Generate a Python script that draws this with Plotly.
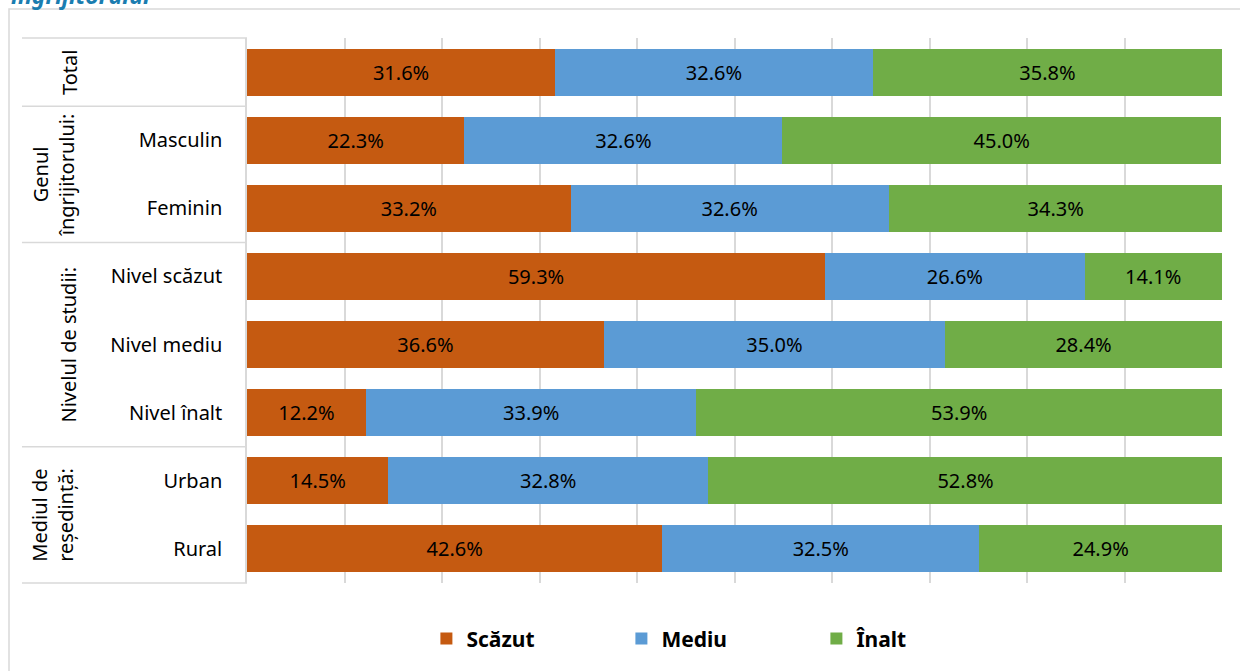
import plotly.graph_objects as go

categories = ["Total", "Masculin", "Feminin", "Nivel scăzut", "Nivel mediu",
              "Nivel înalt", "Urban", "Rural"]
tick_labels = ["", "Masculin", "Feminin", "Nivel scăzut", "Nivel mediu",
               "Nivel înalt", "Urban", "Rural"]
series_names = ["Scăzut", "Mediu", "Înalt"]
scazut = [31.6, 22.3, 33.2, 59.3, 36.6, 12.2, 14.5, 42.6]
mediu = [32.6, 32.6, 32.6, 26.6, 35.0, 33.9, 32.8, 32.5]
inalt = [35.8, 45.0, 34.3, 14.1, 28.4, 53.9, 52.8, 24.9]
groups = ["Total", "Genul<br>îngrijitorului:", "Nivelul de studii:", "Mediul de<br>reședință:"]
group_sizes = [1, 2, 3, 2]

colors = ["#C55A11", "#5B9BD5", "#70AD47"]
grid = "#D9D9D9"
font = "Noto Sans"

fig = go.Figure()
for name, vals, col in zip(series_names, [scazut, mediu, inalt], colors):
    fig.add_trace(go.Bar(
        y=categories, x=vals, name=name, orientation="h",
        marker=dict(color=col, line=dict(width=0)),
        texttemplate="%{x:.1f}%", textposition="inside",
        insidetextanchor="middle", textangle=0,
        textfont=dict(family=font, size=20, color="#000000"),
        hoverinfo="skip",
    ))

# group separators and rotated group labels on the left
n = len(categories)
shapes = []
annotations = []
start = 0
shapes.append(dict(type="line", xref="paper", yref="paper", x0=-0.2308, x1=0,
                   y0=1, y1=1, line=dict(color=grid, width=1.5)))
for g, size in zip(groups, group_sizes):
    end = start + size
    y_bottom = 1 - end / n
    shapes.append(dict(type="line", xref="paper", yref="paper", x0=-0.2308, x1=0,
                       y0=y_bottom, y1=y_bottom, line=dict(color=grid, width=1.5)))
    xpos = -0.199 if "<br>" in g else -0.1826
    annotations.append(dict(text=g, xref="paper", yref="paper", x=xpos,
                            y=1 - (start + end) / 2 / n, textangle=-90,
                            showarrow=False, xanchor="center", yanchor="middle",
                            font=dict(family=font, size=20, color="#000000")))
    start = end

# outer chart frame
shapes.append(dict(type="rect", xref="paper", yref="paper", x0=-0.2441, x1=1.1,
                   y0=-0.4, y1=1.0532, line=dict(color=grid, width=1.5),
                   fillcolor="rgba(0,0,0,0)"))

# clipped title from above the chart
annotations.append(dict(text="<b><i>îngrijitorului</i></b>", xref="paper", yref="paper",
                        x=-0.2441, y=1.046, xanchor="left", yanchor="bottom",
                        showarrow=False,
                        font=dict(family=font, size=23, color="#1A7DB0")))

fig.update_layout(
    barmode="stack",
    bargap=0.31,
    width=1240, height=671,
    margin=dict(l=247, r=18, t=38, b=88),
    paper_bgcolor="white", plot_bgcolor="white",
    shapes=shapes, annotations=annotations,
    showlegend=True,
    legend=dict(orientation="h", x=0.184, y=-0.065, xanchor="left", yanchor="top",
                entrywidth=150, entrywidthmode="pixels",
                font=dict(family=font, size=21, color="#000000", weight="bold"),
                traceorder="normal"),
    xaxis=dict(range=[0, 100], dtick=10, showgrid=True, gridcolor=grid, gridwidth=1.5,
               showticklabels=False, zeroline=False, showline=False, fixedrange=True),
    yaxis=dict(categoryorder="array", categoryarray=categories, autorange="reversed",
               tickvals=categories, ticktext=tick_labels, ticks="",
               ticklabelstandoff=19, showline=True, linecolor=grid, linewidth=1.5,
               showgrid=False,
               tickfont=dict(family=font, size=20, color="#000000")),
)

fig.write_html("out.html", config={"displayModeBar": False},
               post_script="document.body.style.margin='0';")
